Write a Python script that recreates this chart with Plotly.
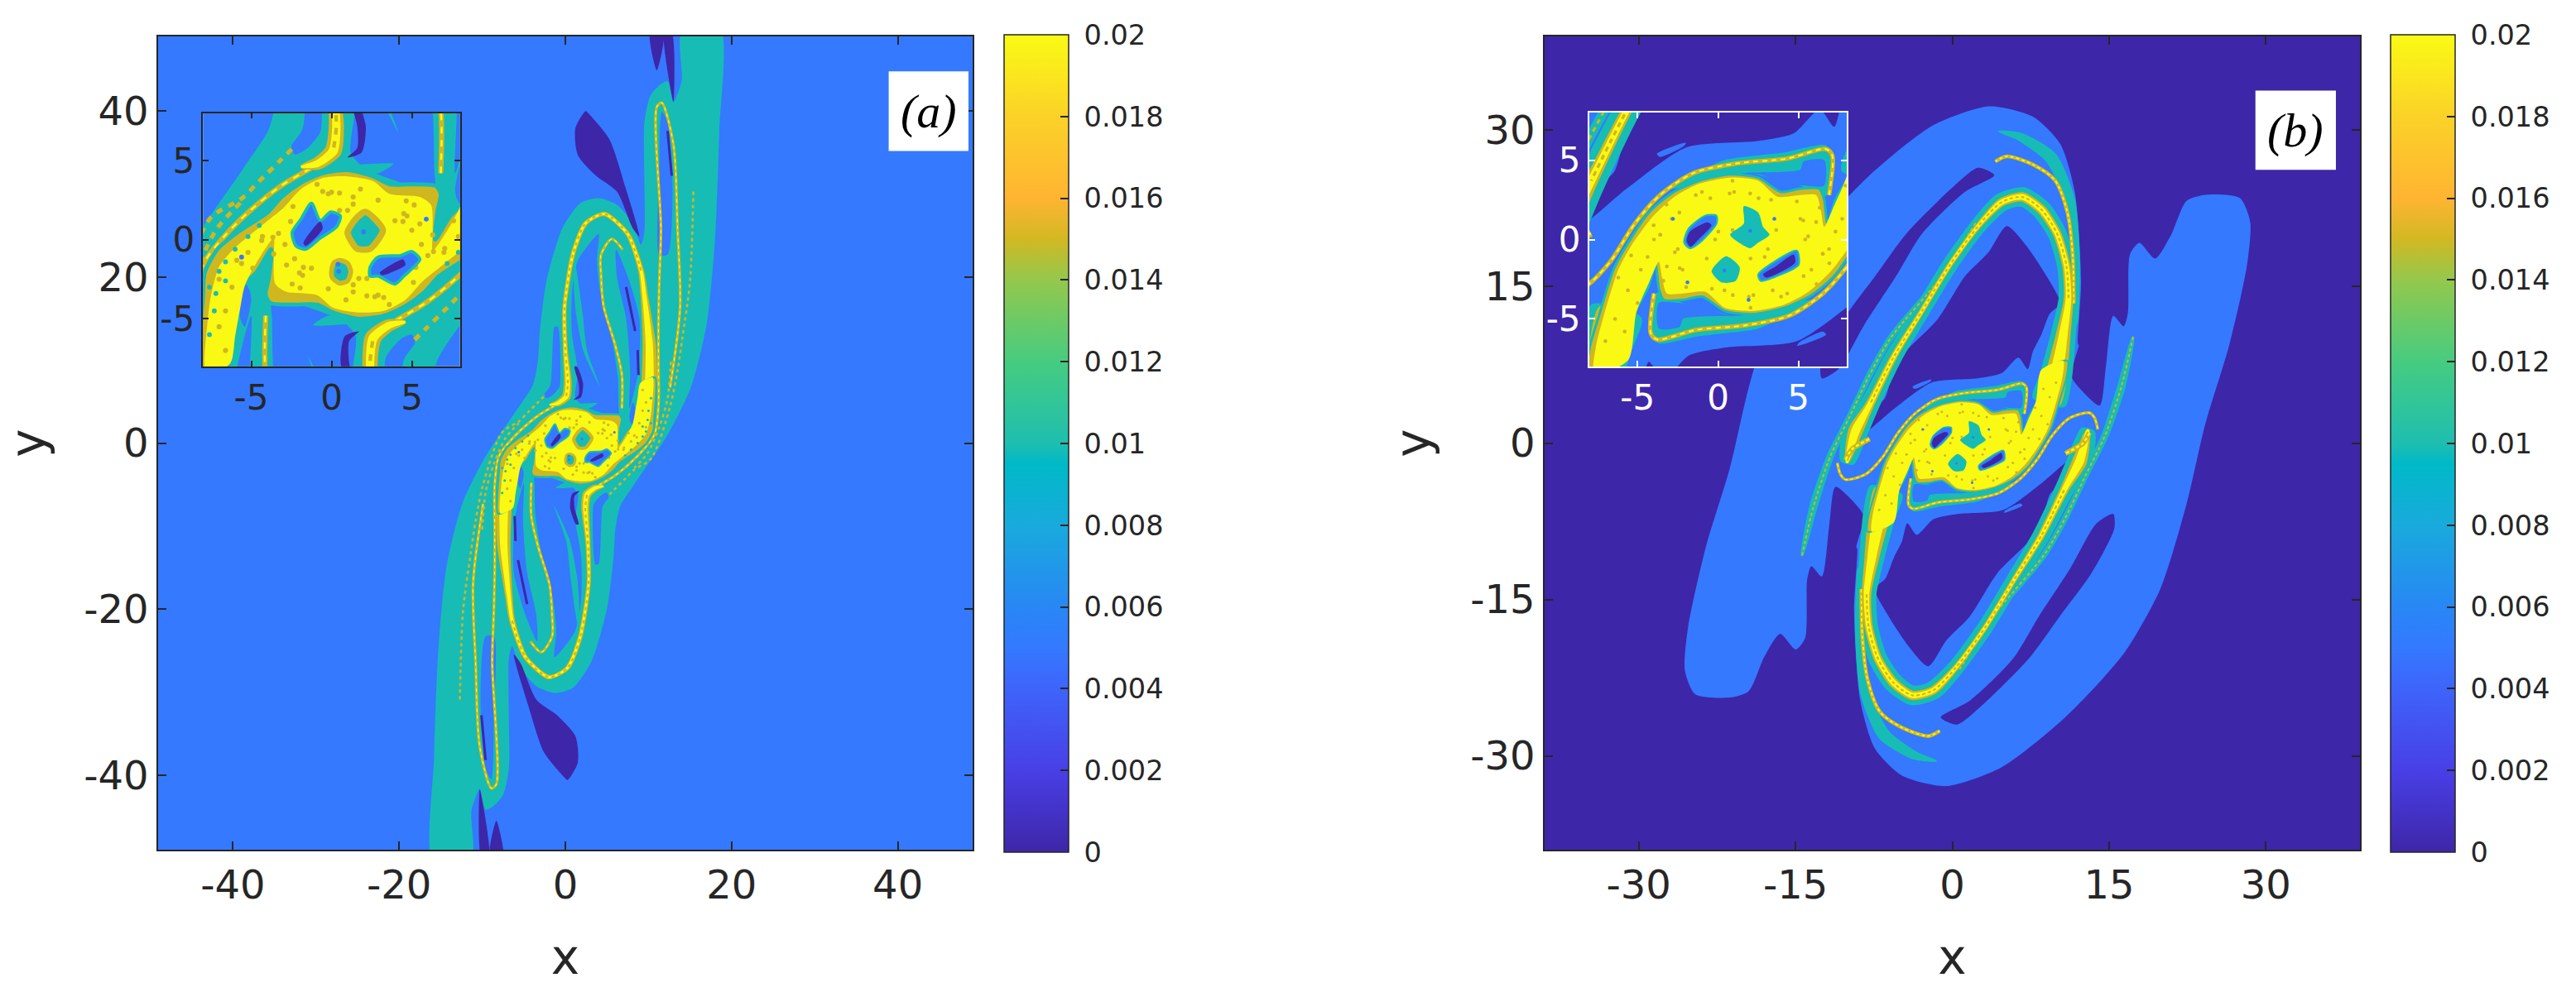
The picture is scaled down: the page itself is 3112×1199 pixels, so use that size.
import math
import plotly.graph_objects as go

W, H = 3112, 1199
DARK, BLUE, TEAL, MUST, YEL = "#3d26a8", "#3479ff", "#17bdb4", "#cfb720", "#faf914"
INK = "#262626"

COLORBAR_STOPS = [0, 0.1, 0.2, 0.25, 0.3, 0.4, 0.475, 0.5, 0.6, 0.7, 0.75, 0.8, 0.9, 1]
COLORBAR_COLORS = ["#3e26a8", "#483fe6", "#3e64fa", "#3479ff", "#2887f5", "#19aadc", "#00b9c8", "#1ebeb0",
                   "#46cc80", "#94c84c", "#d2b823", "#ffb432", "#fbd228", "#fafa14"]
CB_TICKS = [0, 0.002, 0.004, 0.006, 0.008, 0.01, 0.012, 0.014, 0.016, 0.018, 0.02]
CB_LABELS = ["\u00a00", "\u00a00.002", "\u00a00.004", "\u00a00.006", "\u00a00.008", "\u00a00.01", "\u00a00.012",
             "\u00a00.014", "\u00a00.016", "\u00a00.018", "\u00a00.02"]
BG_A, BG_B = 0.005, 0.0

# ---------- panel (a), data units, half shapes are completed by the point symmetry of the field
A_C = (1.35, -0.3)
A_ENVELOPE = [(18.6, 50), (18.5, 37.3), (18, 24.5), (17, 14.3), (15.1, 6.7), (12.3, 1), (8.2, -5.1), (6.6, -7.6),
              (6, -10.5), (5.8, -13.7), (5, -20), (3.1, -26.4), (0.9, -29.5), (-1.3, -30.1), (-3.5, -29.3),
              (-5.4, -27.1), (-6.4, -24.5), (-6.8, -26), (-6.8, -32.8), (-6.8, -39.2), (-7.5, -42.4), (-8.6, -43.7),
              (-9.6, -44.2), (-10.3, -41.7), (-11.3, -44.3), (-11.3, -50)]
A_BLUE_1 = [(-3.7, -3.8), (0.6, -5.1), (1.5, -6.1), (1.2, -9.2), (1.9, -13.7), (1.9, -18.8), (1.2, -22.6), (-0.4, -24.9),
            (-1.3, -25.8), (-1.1, -22.6), (-1.5, -18.8), (-2.9, -13.1), (-3.6, -8.6), (-3.7, -5)]
A_BLUE_2 = [(-5, -4.8), (-6.1, -9.3), (-6.2, -15.6), (-4.8, -20.7), (-3.4, -23.9), (-3.5, -20.7), (-4.6, -15.6), (-5.1, -9.3)]
A_BLUE_3 = [(-9.6, -23.3), (-10.2, -31), (-9.6, -39.2), (-8.9, -40.5), (-8.6, -32.8), (-8.6, -23.3)]
A_BLUE_4 = [(-2.5, 5.9), (-2.3, 5.4), (-1.6, 5.7), (-0.7, 6.8), (-0.6, 8), (-0.9, 14), (-1.3, 14), (-1.8, 7)]
A_BLUE_5 = [(-5.5, -2.6), (-5.7, -4.9), (-5.4, -5.5), (-5, -3.8), (-5.1, -3.2)]
A_DARK_DROP = [(-6.2, -25.5), (-4.5, -31.5), (-2.6, -37.2), (-0.1, -40.3), (0.25, -40.6), (1.5, -38.5), (1.2, -35.3),
               (-1, -32.8), (-3.5, -30.9), (-5.4, -26.5)]
A_DARK_SPIKE_1 = [(-10.3, -41.7), (-10.1, -50), (-9.2, -50)]
A_DARK_SPIKE_2 = [(-8.3, -45.5), (-9.1, -50), (-7.5, -50)]
A_DARK_STRIP = [(0.57, -7.8), (0.83, -6.1), (1.7, -5.8), (1.1, -6.4), (1.1, -7.8), (1.6, -9.8), (1.3, -9.8)]
A_DARK_LINE_1 = [(-6.1, -8.8), (-6, -11.8)]
A_DARK_LINE_2 = [(-5.7, -14.1), (-4.6, -19.4)]
A_DARK_LINE_3 = [(-10.1, -32.8), (-9.6, -38.2)]
A_TEAL_SLIVER = [(-1.45, -7.4), (0.1, -11.8), (0.6, -16), (1.2, -20.4), (1.5, -22), (1.7, -20.4), (1.4, -16.1), (0.5, -11.6)]
A_TEAL_UNDER = [(-1.15, -5.4), (-0.2, -4.8), (1.5, -4.85), (3, -5.3), (1, -5.35)]
A_RING_PATH = [(-7.2, -6.5), (-7.4, -8), (-7.4, -12.4), (-7.1, -15.7), (-6.8, -18.4), (-6.4, -21.4), (-4.8, -25.8), (-2, -28.2),
               (0.25, -27.1), (1.8, -23.3), (2.8, -16.9), (2.7, -11.8), (2.4, -7.8), (2.6, -6.2), (3.6, -5.4), (4.6, -5.2)]
A_RING_WIDTH = [1.9, 1.9, 1.6, 1.2, 0.9, 0.7, 0.55, 0.55, 0.55, 0.55, 0.5, 0.6, 0.95, 1.05, 0.8, 0.2]
A_RING_DOTS = [(-6.4, -21.4), (-4.8, -25.8), (-2, -28.2), (0.25, -27.1), (1.8, -23.3), (2.8, -16.9), (2.7, -11.8), (2.4, -7.8), (2.6, -6.2)]
A_STRAND_LOOP = [(-1.3, 4.5), (-3.15, 3.4), (-5, 1.9), (-6.6, 0.3), (-8, -1.6), (-8.5, -5), (-8.5, -10), (-8.5, -15.1), (-8.6, -20),
                 (-8.8, -26.4), (-8.3, -41.1), (-8.9, -41.6), (-10.3, -36.6), (-10.8, -26.4), (-11.1, -16.9), (-9.9, -7.3)]
A_STRAND_DOTS_1 = [(-12.7, -30.9), (-12.3, -20.1), (-11.4, -13.4), (-10.8, -9.4), (-9.9, -5), (-7.6, 1.3), (-5.6, 2.6), (-4.5, 3.7),
                   (-3.2, 5), (-2.4, 5.8)]
A_STRAND_DOTS_2 = [(-10, -10.4), (-9.6, -6), (-8.6, -2.5), (-7.2, 0.6), (-5.6, 2.4)]
A_STRAND_INNER = [(-4.1, -4.8), (-4.1, -8.8), (-3.3, -12.4), (-1.9, -17.1), (-1.6, -20.7), (-1.6, -23.3), (-2.9, -25.2), (-4.2, -23.9)]
A_BLOB_M = [(-8.1, -8.5), (-8, -3.5), (-7.9, -2.1), (-7.1, -0.6), (-5.8, 0.5), (-4, 1.7), (-3.1, 2.7), (-1.9, 3.6), (-0.55, 4.2),
            (1, 4.4), (2.6, 4), (3.6, 3.5), (5, 3.5), (6.5, 3.4), (6.8, 2.9), (6.6, 1.8), (6.45, 0), (7.4, 1.5), (8.4, 2.5),
            (8.7, 3.9), (9, 5.5), (9.3, 7.2)]
A_BLOB_Y = [(-7.8, -8.5), (-7.7, -5), (-7.5, -3.5), (-7, -1.7), (-6, -0.5), (-4.1, 1.1), (-3, 2), (-1.9, 3.2), (-0.55, 3.9),
            (1, 4), (2.6, 3.7), (3.6, 2.9), (5.5, 2.7), (6.2, 2.2), (6.3, 0.5), (6.3, -0.7), (7.4, 0.9), (8.1, 2.3),
            (8.4, 3.8), (8.7, 5.5), (9, 7.2)]
A_HOLE_TEAL_1 = [(1, 0.46), (1.5, 1.3), (2.1, 1.75), (2.7, 1.3), (3.2, 0.6), (2.4, -0.57), (1.6, -0.57), (1.2, -0.05)]
A_HOLE_TEAL_2 = [(0, -2), (0.15, -1.45), (0.55, -1.3), (1, -1.5), (1.2, -2), (1, -2.6), (0.5, -2.75), (0.05, -2.4)]
A_HOLE_BLUE_1 = [(-2.45, 0.46), (-1.9, 1.3), (-1.25, 2.3), (-0.7, 1.2), (-0.05, 1.75), (0.55, 1.5), (0.3, 0.8), (-0.7, 0.1),
                 (-1.6, -0.6), (-2.2, -0.4)]
A_HOLE_DARK_1 = [(-1.75, -0.2), (-0.7, 1.15), (-0.55, 0.7), (-1.6, -0.4)]
A_HOLE_BLUE_2 = [(2.4, -1.75), (2.9, -1.1), (4.3, -1), (5, -0.75), (5.5, -1.25), (4.5, -2.3), (3.95, -2.8), (2.9, -2.3), (2.4, -2.3)]
A_HOLE_DARK_2 = [(3, -2.1), (4.45, -1.25), (4.6, -1.6), (3.15, -2.25)]
A_BLUE_DOTS = [(2.0, 0.5), (0.4, -1.55), (0.45, -2), (5.9, 1.3), (-5.6, -1.1), (3.55, -1.4)]
A_EDGE_DOTS = [(-7.6, -3), (-7, -2), (-6.6, -1.4), (-6, -0.6), (-7.3, -4.5), (-7.6, -6), (-7.2, -3.4), (-6.6, -2.6), (-5.2, 0.2), (-4.5, 0.9)]
A_SPOTS = [(-2.4, 2.1), (0, 3), (0.5, 2.95), (1.8, 3.2), (1.35, 2.25), (2.9, 2.5), (4.5, 1.65), (3.95, 1.2), (5, 0.6), (5.15, 2.2),
           (-2.9, -0.3), (-2, -2.1), (-1.75, -1.75), (-2.8, -1.6), (-4.35, -0.05), (-3.3, 0.4), (1.35, -3.3), (3.25, -3.65),
           (2.9, -3.5), (3.6, -4.1), (1.7, -2.45), (2.2, -2.45), (5.25, -1.75), (6.35, -0.75), (7, -0.8), (-1.95, -3.05),
           (-3.6, -0.9), (-5.6, -1.5), (-6.2, -3), (-7, -5.5), (-6.6, -7), (-5.9, -1.3), (-6.6, -4.5), (-7, -2.5), (7.6, 1.2), (7.9, 0.2)]

# ---------- panel (b)
B_C = (1.46, -0.3)
B_ENVELOPE = [(12.1, 9.4), (11.4, 6.4), (12.6, 4.8), (14.1, 3.6), (14.7, 7.4), (15.4, 12.2), (16.4, 11.2), (16.8, 12.5), (17, 18.1),
              (17.9, 19.2), (19.4, 17.7), (20.9, 19.9), (22.4, 23.2), (24.2, 23.8), (27.5, 23.5), (28.5, 21.2), (28.2, 17.1),
              (26.5, 9.4), (24.2, 1.8), (22.4, -5.9), (19.9, -14), (16.4, -20.2), (10.8, -26.3), (4.7, -31.1), (-0.6, -32.9),
              (-4.8, -31.9), (-7.4, -29.3), (-8.8, -24.7), (-9.4, -16.1), (-9.1, -10.1)]
B_DARK_1 = [(-4.3, -7.7), (-3.4, -8.8), (-1.8, -7.3), (0.5, -6.8), (4.9, -6.4), (8.6, -3.8), (11.2, -1.7), (10.5, -3.8), (9.35, -4.9),
            (8.3, -8.3), (4.3, -12.5), (1.7, -16.6), (-0.55, -18.9), (-2.3, -21.4), (-4.1, -19.6), (-6.1, -16.6), (-7.4, -14),
            (-6.4, -13), (-5.6, -11), (-4.8, -9.4)]
B_DARK_2 = [(15.4, -6.8), (15.5, -8.2), (13.3, -12.5), (10.3, -16.6), (7.3, -20.7), (2.7, -25.3), (0.45, -27), (-1.1, -26.3),
            (1.7, -24.7), (5.8, -20.7), (8.3, -16.6), (11.3, -12), (13.8, -7.7)]
B_BLUE_SLIVER = [(-3.8, 5.4), (-2, 6.1), (-2.1, 5.9), (-3.6, 5.2)]
B_R_PATH = [(-6.3, -4.5), (-7, -7), (-7.7, -11), (-8.2, -14.5), (-8, -17.6), (-7.1, -20.7), (-5.6, -23), (-3.8, -24.2), (-1.8, -23.7),
            (0.45, -21.4), (3.2, -17.6), (5.8, -13.3), (8.5, -8.9), (10.8, -4.3), (12.2, -1.7), (13, 1.3)]
B_R_WIDTH = [2.2, 2.1, 1.4, 0.9, 0.8, 0.8, 0.9, 0.9, 0.8, 0.55, 0.5, 0.5, 0.65, 0.85, 1.4, 0.3]
B_R_DOTS = [(-8.2, -14.5), (-8, -17.6), (-7.1, -20.7), (-5.6, -23), (-3.8, -24.2), (-1.8, -23.7), (0.45, -21.4), (3.2, -17.6), (5.8, -13.3), (8.5, -8.9), (10.8, -4.3)]
B_STRAND_OUTER = [(-8.7, -14), (-8.6, -18.6), (-8.1, -22.7), (-6.9, -25.8), (-4.8, -27.3), (-2.3, -28.1), (-1.2, -27.6)]
B_TEAL_OUTER = [(-9, -12), (-9, -18), (-8.3, -24), (-6.5, -28), (-3.5, -30), (-1.5, -30.5)]
B_TEAL_OUTER_W = [0.1, 0.6, 1, 1.2, 0.8, 0.1]
B_STRAND_T3 = [(17.3, 10.2), (16.2, 5.5), (14.6, 0.7), (12.8, -3), (10.9, -7), (8.8, -10.7), (4, -16.5), (0.7, -21.7)]
B_T3_W = [0.2, 0.8, 0.7, 0.6, 0.6, 0.6, 0.6, 0.2]
B_STRAND_L1 = [(6.9, 2.8), (7.1, 5.3), (6.7, 5.7), (4.3, 5.1), (1.2, 4.8), (-1.5, 4.2), (-3.6, 2.8), (-5.2, 0.96), (-6.7, -1.4),
               (-8.3, -3), (-10.2, -3.5), (-10.7, -3), (-11, -1.9)]
B_STRAND_FOLD = [(-10.2, -1.6), (-9.6, -0.6), (-7.9, 0.4)]
B_TEAL_TOP = [(-2.9, 3.2), (-1.3, 4.2), (0.4, 5), (4.2, 5.5), (6.6, 5.95), (7.2, 5.4), (7, 3.1), (6.6, 2.7), (5.1, 3.4), (3.5, 3.8), (1.8, 4.2)]
B_BLUE_TOP = [(1.8, 4.2), (5.1, 4.4), (5.3, 4.9), (6.6, 5), (6.6, 3.4), (5.3, 3.4), (3.9, 3.6), (2.6, 4.1)]
B_BLOB_M = [(-8.1, -8.5), (-8, -6.9), (-7.4, -4.8), (-6.5, -1.9), (-5.7, -0.4), (-4.3, 1.7), (-2.9, 2.9), (-1.2, 3.7), (0.75, 4.1),
            (2.5, 3.9), (3.9, 3), (5.1, 3.2), (6.3, 3.2), (6.6, 2.5), (6.8, 1), (7.3, 2.5), (8.2, 4.2), (8.7, 7)]
B_BLOB_Y = [(-7.7, -8.5), (-7.6, -6.8), (-7.1, -4.8), (-6.2, -1.9), (-5.4, -0.4), (-4.1, 1.4), (-2.7, 2.7), (-1.2, 3.5), (0.75, 3.9),
            (2.5, 3.7), (3.7, 2.7), (5.1, 2.8), (6.1, 2.8), (6.4, 1.8), (6.6, 0.8), (7.2, 2.1), (8, 4), (8.5, 7)]
B_HOLE_BLUE_1 = [(-2.1, -0.2), (-1.85, 0.65), (-0.8, 1.5), (-0.1, 1.5), (-0.1, 1), (-1.15, -0.2), (-1.75, -0.55)]
B_HOLE_DARK_1 = [(-1.95, -0.1), (-1.75, 0.5), (-0.65, 1.08), (-0.4, 0.9), (-1.25, -0.03), (-1.7, -0.46)]
B_HOLE_BLUE_2 = [(2.5, -2.2), (3.2, -1.6), (4.9, -0.7), (5, -1.6), (3.9, -2.2), (2.65, -2.6)]
B_HOLE_DARK_2 = [(2.8, -2.2), (3.5, -1.75), (4.7, -0.95), (4.8, -1.45), (3.9, -2.05), (3, -2.4)]
B_HOLE_TEAL_1 = [(0.75, 0.3), (1.6, 1), (1.6, 2.1), (2.5, 1.7), (2.8, 0.8), (3.2, 0.3), (2.5, -0.2), (2, -0.55), (1.3, -0.2)]
B_HOLE_TEAL_2 = [(-0.4, -2), (0.5, -1.06), (1.35, -1.75), (1.1, -2.6), (0.2, -2.7)]
B_BLUE_DOTS = [(2, 0.55), (0.4, -1.95), (-2.8, 1.3), (-1.9, -2.7), (1.9, -3.8), (3.5, 1.3), (-0.6, 1.2)]
B_SPOTS = [(-3.2, 2.2), (-2.4, 1.7), (-1, 3), (0.9, 3.7), (1, 3), (2, 2.9), (3.3, 2.5), (4.9, 2.4), (5.3, 1.2), (6.1, 1.1), (5.6, 0.2),
           (3.1, -0.6), (-3.6, 0.3), (-4, 0.9), (-2.5, -0.6), (-2.2, -1.9), (-3.4, -2.6), (0.4, -3.2), (2.2, -3.5), (3.4, -3.2),
           (4.3, -3.4), (5.8, -1.9), (6.5, -0.9), (-5.4, -1), (-6.2, -2.4), (-5.6, -3.2), (-4.8, -1.9), (-6.4, -5), (-5.8, -5.8), (-7, -6.4),
           (-5, -4), (7.3, 0.5), (6.9, -0.6), (-0.7, -1.2), (0.9, 0.6), (2.9, -1.1)]

INSET_TICKS = [-5, 0, 5]
INSET_LABELS = ["-5", "0", "5"]
A_TICKS = [-40, -20, 0, 20, 40]
A_LABELS = ["-40", "-20", "0", "20", "40"]
B_TICKS = [-30, -15, 0, 15, 30]
B_LABELS = ["-30", "-15", "0", "15", "30"]

fig = go.Figure()


def xy(p):
    return [q[0] for q in p], [q[1] for q in p]


def rot(p, c):
    return [(2 * c[0] - a, 2 * c[1] - b) for a, b in p]


def ribbon(pts, widths):
    left, right = [], []
    n = len(pts)
    for i, (px, py) in enumerate(pts):
        ax_, ay_ = pts[max(i - 1, 0)]
        bx_, by_ = pts[min(i + 1, n - 1)]
        dx, dy = bx_ - ax_, by_ - ay_
        m = math.hypot(dx, dy) or 1
        nx, ny = -dy / m, dx / m
        h = widths[i] / 2
        left.append((px + nx * h, py + ny * h))
        right.append((px - nx * h, py - ny * h))
    return left + right[::-1]


def poly(ax, pts, color, line=None, w=0, smooth=True):
    x, y = xy(pts + [pts[0]])
    fig.add_trace(go.Scatter(x=x, y=y, mode="lines", fill="toself", fillcolor=color, xaxis=ax[0], yaxis=ax[1],
                             line=dict(color=line or color, width=w, shape="spline" if smooth else "linear", smoothing=0.7),
                             hoverinfo="skip", showlegend=False))


def line(ax, pts, color, w, dash=None):
    x, y = xy(pts)
    fig.add_trace(go.Scatter(x=x, y=y, mode="lines", xaxis=ax[0], yaxis=ax[1],
                             line=dict(color=color, width=w, dash=dash, shape="spline", smoothing=0.8),
                             hoverinfo="skip", showlegend=False))


def dots(ax, pts, color, size):
    x, y = xy(pts)
    fig.add_trace(go.Scatter(x=x, y=y, mode="markers", xaxis=ax[0], yaxis=ax[1],
                             marker=dict(color=color, size=size, line=dict(width=0)), hoverinfo="skip", showlegend=False))


def base(ax, v, rng, cb_x=None):
    fig.add_trace(go.Heatmap(x=[-rng, rng], y=[-rng, rng], z=[[v, v], [v, v]], zmin=0, zmax=0.02, xaxis=ax[0], yaxis=ax[1],
                             colorscale=list(zip(COLORBAR_STOPS, COLORBAR_COLORS)), hoverinfo="skip",
                             showscale=cb_x is not None,
                             colorbar=None if cb_x is None else dict(
                                 x=cb_x / W, xanchor="left", xpad=0, ypad=0, y=(H - 1030) / H, yanchor="bottom",
                                 len=988 / H, lenmode="fraction", thickness=78, thicknessmode="pixels",
                                 tickvals=CB_TICKS, ticktext=CB_LABELS, ticks="inside", ticklen=10, tickwidth=1.5,
                                 tickcolor=INK, outlinecolor=INK, outlinewidth=1.5,
                                 tickfont=dict(family="DejaVu Sans", size=33.5, color=INK))))


def strand(ax, c, pts, w, s, dash=None, yf=0.4):
    for p in (pts, rot(pts, c)):
        line(ax, p, MUST, w * s)
        line(ax, p, YEL, w * s * yf, dash)


def band(ax, c, path, widths, dot_path, s, d, yf=0.55):
    poly(ax, ribbon(path, widths), MUST)
    poly(ax, rot(ribbon(path, widths), c), MUST)
    yw = [v * yf for v in widths]
    poly(ax, ribbon(path, yw), YEL)
    poly(ax, rot(ribbon(path, yw), c), YEL)
    line(ax, dot_path, MUST, 2.2 * s, d)
    line(ax, rot(dot_path, c), MUST, 2.2 * s, d)


def panel_a(ax, s):
    base(ax, BG_A, 60 if s == 1 else 9, 1213 if s == 1 else None)
    c = A_C
    poly(ax, A_ENVELOPE + rot(A_ENVELOPE, c), TEAL)
    for shp in (A_BLUE_1, A_BLUE_2, A_BLUE_3, A_BLUE_4, A_BLUE_5):
        poly(ax, shp, BLUE)
        poly(ax, rot(shp, c), BLUE)
    for shp in (A_DARK_DROP, A_DARK_SPIKE_1, A_DARK_SPIKE_2, A_DARK_STRIP):
        poly(ax, shp, DARK)
        poly(ax, rot(shp, c), DARK)
    for shp in (A_DARK_LINE_1, A_DARK_LINE_2, A_DARK_LINE_3):
        line(ax, shp, DARK, 3 * s)
        line(ax, rot(shp, c), DARK, 3 * s)
    for shp in (A_TEAL_SLIVER, A_TEAL_UNDER):
        poly(ax, shp, TEAL)
        poly(ax, rot(shp, c), TEAL)
    d = f"{round(4*s)}px,{round(4*s)}px"
    for shp in (A_STRAND_DOTS_1, A_STRAND_DOTS_2):
        line(ax, shp, MUST, 2.6 * s, d)
        line(ax, rot(shp, c), MUST, 2.6 * s, d)
    strand(ax, c, A_STRAND_LOOP, 3.2, s, d)
    strand(ax, c, A_STRAND_INNER, 3.2, s, d)
    band(ax, c, A_RING_PATH, A_RING_WIDTH, A_RING_DOTS, s, d)
    poly(ax, A_BLOB_M + rot(A_BLOB_M, c), MUST, TEAL, 2.5 * s)
    poly(ax, A_BLOB_Y + rot(A_BLOB_Y, c), YEL)
    dots(ax, A_EDGE_DOTS + rot(A_EDGE_DOTS, c), TEAL, 3 * s)
    dots(ax, A_SPOTS + rot(A_SPOTS, c), MUST, 3.2 * s)
    poly(ax, A_HOLE_TEAL_1, TEAL, MUST, 4 * s)
    poly(ax, A_HOLE_TEAL_2, TEAL, MUST, 3 * s)
    poly(ax, A_HOLE_BLUE_1, BLUE, TEAL, 2 * s)
    poly(ax, A_HOLE_DARK_1, DARK)
    poly(ax, A_HOLE_BLUE_2, BLUE, TEAL, 2 * s)
    poly(ax, A_HOLE_DARK_2, DARK)
    dots(ax, A_BLUE_DOTS, BLUE, 3 * s)


def panel_b(ax, s):
    base(ax, BG_B, 60 if s == 1 else 9, 2888 if s == 1 else None)
    c = B_C
    poly(ax, B_ENVELOPE + rot(B_ENVELOPE, c), BLUE)
    for shp in (B_DARK_1, B_DARK_2, ):
        poly(ax, shp, DARK)
        poly(ax, rot(shp, c), DARK)
    poly(ax, B_BLUE_SLIVER, BLUE)
    poly(ax, rot(B_BLUE_SLIVER, c), BLUE)
    d = f"{round(4*s)}px,{round(3*s)}px"
    teal_r = [v + 1.0 for v in B_R_WIDTH]
    for path, wid in ((B_TEAL_OUTER, B_TEAL_OUTER_W), (B_STRAND_T3, B_T3_W), (B_R_PATH, teal_r)):
        poly(ax, ribbon(path, wid), TEAL)
        poly(ax, rot(ribbon(path, wid), c), TEAL)
    poly(ax, B_TEAL_TOP, TEAL)
    poly(ax, rot(B_TEAL_TOP, c), TEAL)
    poly(ax, B_BLUE_TOP, BLUE)
    poly(ax, rot(B_BLUE_TOP, c), BLUE)
    line(ax, B_STRAND_T3, MUST, 2 * s, d)
    line(ax, rot(B_STRAND_T3, c), MUST, 2 * s, d)
    strand(ax, c, B_STRAND_L1, 3.5, s, d)
    strand(ax, c, B_STRAND_OUTER, 4.5, s, d)
    band(ax, c, B_R_PATH, B_R_WIDTH, B_R_DOTS, s, d, 0.6)
    strand(ax, c, B_STRAND_FOLD, 6, s, d)
    poly(ax, B_BLOB_M + rot(B_BLOB_M, c), MUST, TEAL, 2 * s)
    poly(ax, B_BLOB_Y + rot(B_BLOB_Y, c), YEL)
    dots(ax, B_SPOTS + rot(B_SPOTS, c), MUST, 3 * s)
    poly(ax, B_HOLE_TEAL_1, TEAL)
    poly(ax, B_HOLE_TEAL_2, TEAL)
    poly(ax, B_HOLE_BLUE_1, BLUE, TEAL, 1.5 * s)
    poly(ax, B_HOLE_DARK_1, DARK)
    poly(ax, B_HOLE_BLUE_2, BLUE, TEAL, 1.5 * s)
    poly(ax, B_HOLE_DARK_2, DARK)
    dots(ax, B_BLUE_DOTS, BLUE, 3 * s)


panel_a(("x", "y"), 1)
panel_b(("x2", "y2"), 1)
panel_a(("x3", "y3"), 1.93)
panel_b(("x4", "y4"), 1.53)


def dom_x(a, b):
    return [a / W, b / W]


def dom_y(t, b):
    return [(H - b) / H, (H - t) / H]


def axis(dom, rng, vals, labels, anchor, size, color, title=None, line_c=INK, lw=1.5, tl=10, standoff=None):
    a = dict(domain=dom, range=[-rng, rng], tickvals=vals, ticktext=labels, anchor=anchor, ticks="inside", ticklen=tl,
             tickwidth=lw, tickcolor=line_c, showline=True, linecolor=line_c, linewidth=lw, mirror="ticks",
             showgrid=False, zeroline=False, tickfont=dict(family="DejaVu Sans", size=size, color=color), layer="above traces")
    if title:
        a["title"] = dict(text=title, font=dict(family="DejaVu Sans", size=58, color=INK), standoff=standoff)
    return a


fig.update_layout(
    width=W, height=H, margin=dict(l=0, r=0, t=0, b=0), paper_bgcolor="white", plot_bgcolor="white", showlegend=False,
    xaxis=axis(dom_x(191, 1175), 49, A_TICKS, A_LABELS, "y", 48, INK, "x", standoff=40),
    yaxis=axis(dom_y(44, 1027), 49, A_TICKS, A_LABELS, "x", 48, INK, "y", standoff=38),
    xaxis2=axis(dom_x(1866, 2851), 39, B_TICKS, B_LABELS, "y2", 48, INK, "x", standoff=40),
    yaxis2=axis(dom_y(44, 1027), 39, B_TICKS, B_LABELS, "x2", 48, INK, "y", standoff=30),
    xaxis3=axis(dom_x(245.3, 555.7), 8, INSET_TICKS, INSET_LABELS, "y3", 42, INK, tl=7),
    yaxis3=axis(dom_y(136.7, 442.7), 8, INSET_TICKS, INSET_LABELS, "x3", 42, INK, tl=7),
    xaxis4=axis(dom_x(1920, 2231), 8, INSET_TICKS, INSET_LABELS, "y4", 42, "white", line_c="white", lw=2, tl=7),
    yaxis4=axis(dom_y(136, 443), 8, INSET_TICKS, INSET_LABELS, "x4", 42, "white", line_c="white", lw=2, tl=7),
)

PANEL_TAGS = ["(a)", "(b)"]
fig.add_shape(type="rect", xref="x", yref="y", x0=38.9, x1=48.5, y0=35.2, y1=44.8, fillcolor="white", line=dict(width=0))
fig.add_shape(type="rect", xref="x2", yref="y2", x0=29, x1=36.7, y0=26.2, y1=33.8, fillcolor="white", line=dict(width=0))
fig.add_annotation(xref="x", yref="y", x=43.7, y=40, text=f"<i>{PANEL_TAGS[0]}</i>", showarrow=False,
                   font=dict(family="Liberation Serif", size=58, color="black"))
fig.add_annotation(xref="x2", yref="y2", x=32.85, y=30, text=f"<i>{PANEL_TAGS[1]}</i>", showarrow=False,
                   font=dict(family="Liberation Serif", size=58, color="black"))

fig.write_html("out.html", config=dict(displayModeBar=False),
               post_script="document.body.style.margin='0';document.body.style.overflow='hidden';")
